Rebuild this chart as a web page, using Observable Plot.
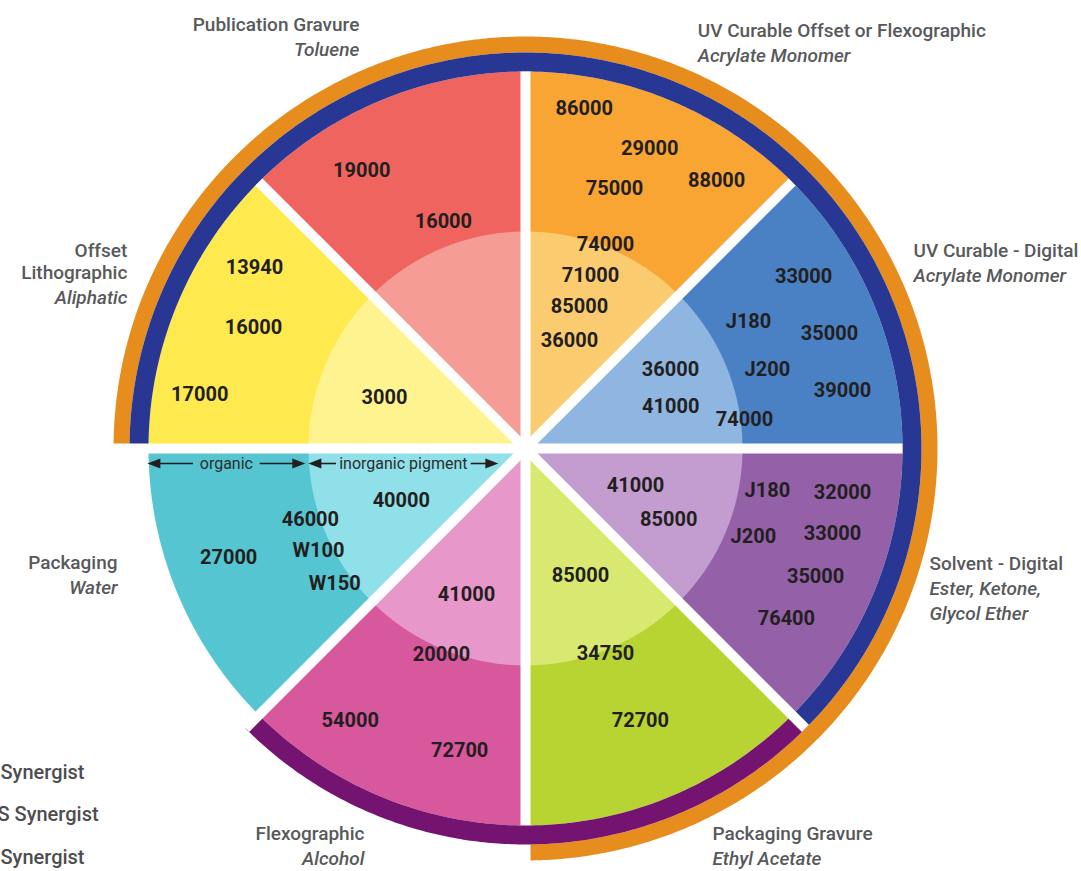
<!DOCTYPE html>
<html>
<head>
<meta charset="utf-8">
<script src="https://cdn.jsdelivr.net/npm/d3@7"></script>
<script src="https://cdn.jsdelivr.net/npm/@observablehq/plot@0.6"></script>
<style>
  html, body { margin: 0; padding: 0; background: #fff; }
  g[aria-label="values"] text { letter-spacing: 1.1px; }
</style>
</head>
<body>
<div id="chart"></div>
<script>
// ---------------- DATA ----------------
const categories = ["UV Curable Offset or Flexographic", "UV Curable - Digital", "Solvent - Digital",
  "Packaging Gravure", "Flexographic", "Packaging", "Offset Lithographic", "Publication Gravure"];
const titleLines = [["UV Curable Offset or Flexographic"], ["UV Curable - Digital"], ["Solvent - Digital"],
  ["Packaging Gravure"], ["Flexographic"], ["Packaging"], ["Offset", "Lithographic"], ["Publication Gravure"]];
const solventLines = [["Acrylate Monomer"], ["Acrylate Monomer"], ["Ester, Ketone,", "Glycol Ether"],
  ["Ethyl Acetate"], ["Alcohol"], ["Water"], ["Aliphatic"], ["Toluene"]];
const sectorValues = [
  ["86000", "29000", "75000", "88000", "74000", "71000", "85000", "36000"],
  ["33000", "J180", "35000", "J200", "39000", "36000", "41000", "74000"],
  ["41000", "85000", "J180", "32000", "J200", "33000", "35000", "76400"],
  ["85000", "34750", "72700"],
  ["41000", "20000", "54000", "72700"],
  ["40000", "46000", "W100", "W150", "27000"],
  ["13940", "16000", "17000", "3000"],
  ["19000", "16000"]
];
const pigmentZones = ["organic", "inorganic pigment"];
const legendTail = ["Synergist", "S Synergist", "Synergist"];

// ---------------- STYLE / LAYOUT ----------------
const outerColors = ["#F9A534", "#4A81C4", "#9461A8", "#B8D433", "#D7589D", "#55C5D2", "#FEE94E", "#F0645F"];
const innerColors = ["#FBCB70", "#8EB6E0", "#C39DD0", "#D8E870", "#E897CA", "#8FE0E8", "#FEF38F", "#F59C95"];
const ringColors = ["#E68D1E", "#283694", "#751370"]; // orange, navy, purple
// label placement inside the wheel: bearing (deg clockwise from north) and radius (fraction of wheel)
const valueBearing = [
  [9.8, 22.5, 18.9, 35.5, 21.4, 20.6, 20.8, 22.2],
  [58.3, 60.3, 69.3, 71.9, 79.6, 61.4, 73.8, 82.5],
  [108.6, 116.4, 99.8, 97.9, 111.1, 105.5, 113.8, 123.1],
  [156.6, 158.7, 157.1],
  [202.0, 202.2, 212.8, 192.3],
  [247.3, 251.7, 243.8, 234.7, 249.8],
  [303.7, 294.0, 279.4, 289.9],
  [329.5, 340.1]
];
const valueRadius = [
  [0.915, 0.861, 0.729, 0.873, 0.581, 0.490, 0.403, 0.309],
  [0.867, 0.681, 0.862, 0.675, 0.855, 0.438, 0.401, 0.586],
  [0.308, 0.424, 0.651, 0.849, 0.648, 0.845, 0.841, 0.826],
  [0.367, 0.584, 0.783],
  [0.418, 0.590, 0.858, 0.820],
  [0.357, 0.601, 0.612, 0.620, 0.839],
  [0.864, 0.790, 0.876, 0.398],
  [0.856, 0.640]
];
const titleBearing = [22.4, 63.0, 105.9, 154.1, 202.7, 254.3, 296.4, 338.6];
const titleRadius = [1.199, 1.155, 1.114, 1.135, 1.107, 1.124, 1.179, 1.208];

const W = 1081, H = 871;
const R = 377;            // px per wheel unit (outer radius of the sectors)
const cx = 525, cy = 448; // wheel centre in px
const innerR = 217 / R;
const navyR = [1, 396 / R];
const orangeR = [396 / R, 412 / R];
const gapReach = [1, 1, 1, 1.05, 1.1, 1.05, 1.1, 1]; // per gap bearing i*45
const px = v => v / R;

const rad = d => d * Math.PI / 180;
const polar = (b, r) => ({x: r * Math.sin(rad(b)), y: r * Math.cos(rad(b))});

function band(id, fill, a0, a1, r0, r1) {
  const pts = [];
  const n = Math.max(2, Math.ceil(Math.abs(a1 - a0) / 0.5));
  for (let i = 0; i <= n; i++) pts.push({id, fill, ...polar(a0 + (a1 - a0) * i / n, r1)});
  if (r0 === 0) pts.push({id, fill, x: 0, y: 0});
  else for (let i = n; i >= 0; i--) pts.push({id, fill, ...polar(a0 + (a1 - a0) * i / n, r0)});
  return pts;
}

const sectorShapes = [];
categories.forEach((c, i) => sectorShapes.push(...band("o" + i, outerColors[i], i * 45, (i + 1) * 45, 0, 1)));
categories.forEach((c, i) => sectorShapes.push(...band("i" + i, innerColors[i], i * 45, (i + 1) * 45, 0, innerR)));
const outerRings = [
  ...band("orange", ringColors[0], -90, 180, orangeR[0], orangeR[1]),
  ...band("navy", ringColors[1], -90, 135, navyR[0], navyR[1])
];
const purpleRing = band("purple", ringColors[2], 135, 225, navyR[0], navyR[1]);

const gaps = categories.map((c, i) => ({b: i * 45, r: gapReach[i]}));
const gapSouth = gaps.filter(g => g.b === 180);
const gapOthers = gaps.filter(g => g.b !== 180);

const valueRows = sectorValues.flatMap((vals, i) =>
  vals.map((v, j) => ({label: v, ...polar(valueBearing[i][j], valueRadius[i][j])})));

const labelRows = [];
categories.forEach((c, i) => {
  const a = polar(titleBearing[i], titleRadius[i]);
  const anchor = a.x > 0 ? "start" : "end";
  const lines = [...titleLines[i].map(t => ({t, italic: false})), ...solventLines[i].map(t => ({t, italic: true}))];
  let off = 0;
  lines.forEach((l, k) => {
    if (k > 0) off += (!lines[k - 1].italic && !l.italic) ? 22 : 25;
    labelRows.push({text: l.t, italic: l.italic, anchor, x: a.x, y: a.y - px(off)});
  });
});

// organic / inorganic annotation spanning the Packaging sector
const annY = px(-15);
const zoneEdges = [-1.003, -0.580, -0.072];
const zones = pigmentZones.map((z, i) => {
  const a = zoneEdges[i] + (i === 1 ? 0.004 : 0), b = zoneEdges[i + 1] - (i === 0 ? 0.004 : 0);
  return {z, a, b, mid: (a + b) / 2, half: px(3.4 * z.length + 9.5)};
});
const HL = px(13), HW = px(5);
const heads = zones.flatMap((d, i) => [
  [{x: d.a, y: annY}, {x: d.a + HL, y: annY + HW}, {x: d.a + HL, y: annY - HW}].map(p => ({...p, id: "h" + i + "a"})),
  [{x: d.b, y: annY}, {x: d.b - HL, y: annY + HW}, {x: d.b - HL, y: annY - HW}].map(p => ({...p, id: "h" + i + "b"}))
]).flat();
const shafts = zones.flatMap(d => [
  {x1: d.a + HL / 2, x2: d.mid - d.half},
  {x1: d.mid + d.half, x2: d.b - HL / 2}
]);

const polyOpts = {x: "x", y: "y", z: "id", fill: "fill", stroke: "none", curve: "linear"};
const gapLink = data => Plot.link(data, {
  x1: () => 0, y1: () => 0,
  x2: d => polar(d.b, d.r).x, y2: d => polar(d.b, d.r).y,
  stroke: "white", strokeWidth: 10
});

const legendMarks = legendTail.map((t, i) => Plot.text([t], {
  text: d => d, frameAnchor: "bottom-left", textAnchor: "start",
  dx: t.startsWith("S ") ? -3 : 0, dy: -(93 - 42.5 * i),
  fontSize: 20, fontWeight: 500, fill: "#4d4d4f"
}));

const labelStyle = {x: "x", y: "y", text: "text", fontSize: 19, fontWeight: 500, fill: "#58595B"};

const chart = Plot.plot({
  width: W, height: H, margin: 0,
  x: {domain: [px(-cx), px(W - cx)], axis: null},
  y: {domain: [px(cy - H), px(cy)], axis: null},
  color: {type: "identity"},
  style: {fontFamily: "Roboto, 'Open Sans', sans-serif", background: "white", overflow: "hidden"},
  marks: [
    Plot.line(sectorShapes, polyOpts),
    Plot.line(outerRings, polyOpts),
    gapLink(gapSouth),
    Plot.line(purpleRing, polyOpts),
    gapLink(gapOthers),
    Plot.text(valueRows, {x: "x", y: "y", text: "label", fontSize: 20, fontWeight: 700,
      fill: "#231F20", ariaLabel: "values"}),
    Plot.link(shafts, {x1: "x1", x2: "x2", y1: () => annY, y2: () => annY, stroke: "#231F20", strokeWidth: 1.6}),
    Plot.line(heads, {x: "x", y: "y", z: "id", fill: "#231F20", stroke: "none"}),
    Plot.text(zones, {x: "mid", y: () => annY, text: "z", fontSize: 16, fill: "#2d2d2d"}),
    Plot.text(labelRows.filter(d => !d.italic && d.anchor === "start"), {...labelStyle, textAnchor: "start"}),
    Plot.text(labelRows.filter(d => !d.italic && d.anchor === "end"), {...labelStyle, textAnchor: "end"}),
    Plot.text(labelRows.filter(d => d.italic && d.anchor === "start"), {...labelStyle, textAnchor: "start", fontStyle: "italic"}),
    Plot.text(labelRows.filter(d => d.italic && d.anchor === "end"), {...labelStyle, textAnchor: "end", fontStyle: "italic"}),
    ...legendMarks
  ]
});
document.getElementById("chart").append(chart);
</script>
</body>
</html>
